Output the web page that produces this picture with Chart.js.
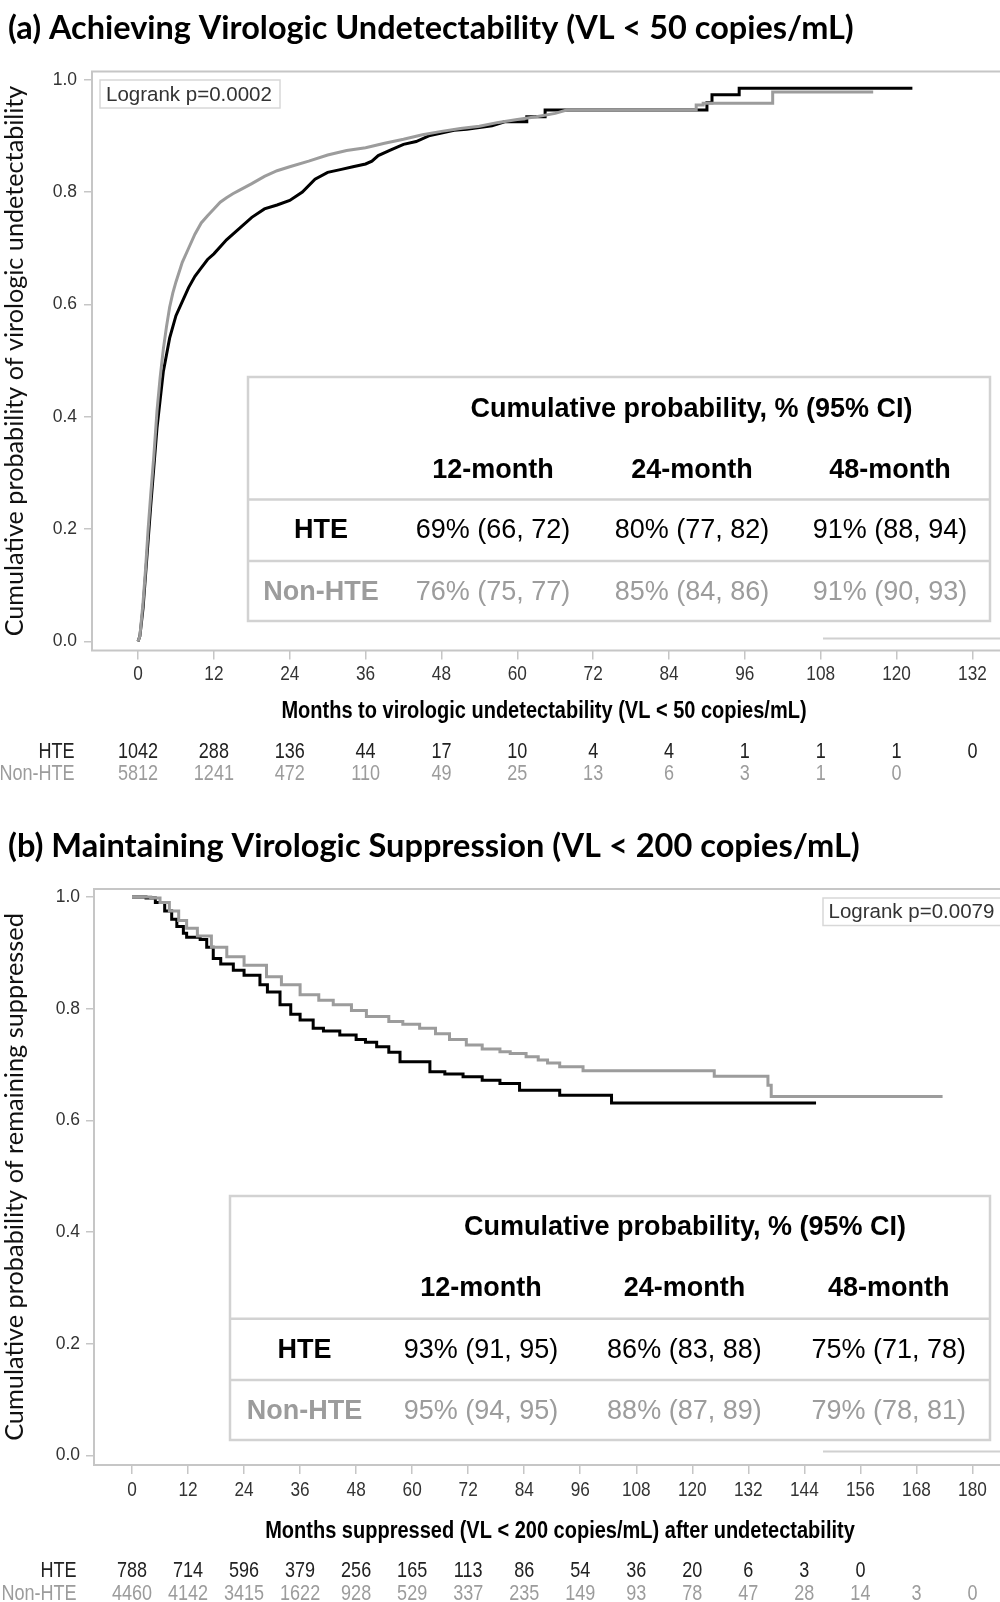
<!DOCTYPE html>
<html>
<head>
<meta charset="utf-8">
<script src="https://cdn.jsdelivr.net/npm/chart.js@4.4.1/dist/chart.umd.min.js"></script>
<style>
  body { margin: 0; background: #fff; }
  canvas { display: block; }
</style>
</head>
<body>
<canvas id="chartA" width="1000" height="800"></canvas>
<canvas id="chartB" width="1000" height="802"></canvas>
<script>
// ---- data: (a) achieving undetectability ----
const TICKS_A = [0, 12, 24, 36, 48, 60, 72, 84, 96, 108, 120, 132];
const RISK_A_HTE = [1042, 288, 136, 44, 17, 10, 4, 4, 1, 1, 1, 0];
const RISK_A_NON = [5812, 1241, 472, 110, 49, 25, 13, 6, 3, 1, 0];
// points, step corners repeated where the steps are visible
const MONTHS_A_HTE = [0, 0.3, 0.8, 1.2, 1.6, 2, 2.5, 3, 3.5, 4, 4.5, 5, 6, 7, 8, 9, 10, 11, 12, 14, 16, 18, 20, 22, 24, 26, 28, 30, 32, 34, 36, 37, 38, 40, 42, 44, 46, 48, 50, 52, 54, 56, 58, 61.5, 61.5, 64.4, 64.4, 90, 90, 90.8, 90.8, 95.1, 95.1, 122.5];
const PROB_A_HTE = [0, 0.01, 0.06, 0.12, 0.18, 0.24, 0.31, 0.38, 0.43, 0.48, 0.51, 0.54, 0.58, 0.605, 0.63, 0.65, 0.665, 0.68, 0.69, 0.715, 0.735, 0.755, 0.77, 0.777, 0.785, 0.8, 0.823, 0.835, 0.84, 0.845, 0.85, 0.855, 0.865, 0.875, 0.885, 0.89, 0.9, 0.905, 0.91, 0.912, 0.915, 0.918, 0.925, 0.925, 0.934, 0.934, 0.946, 0.946, 0.959, 0.959, 0.973, 0.973, 0.985, 0.985];
const MONTHS_A_NON = [0, 0.3, 0.8, 1.2, 1.6, 2, 2.5, 3, 3.5, 4, 4.5, 5, 5.5, 6, 7, 8, 9, 10, 11, 12, 13, 14, 15, 16, 18, 20, 22, 24, 27, 30, 33, 36, 39, 42, 45, 48, 51, 54, 57, 60, 63, 66, 67.8, 88.3, 88.3, 89.4, 89.4, 100.4, 100.4, 116.3];
const PROB_A_NON = [0, 0.01, 0.07, 0.13, 0.2, 0.26, 0.33, 0.41, 0.47, 0.52, 0.56, 0.595, 0.62, 0.64, 0.675, 0.7, 0.725, 0.745, 0.758, 0.77, 0.782, 0.79, 0.797, 0.803, 0.815, 0.828, 0.838, 0.845, 0.855, 0.866, 0.874, 0.879, 0.887, 0.894, 0.902, 0.908, 0.913, 0.917, 0.924, 0.929, 0.934, 0.94, 0.946, 0.946, 0.955, 0.955, 0.958, 0.958, 0.978, 0.978];
const TABLE_A_HTE = ['69% (66, 72)', '80% (77, 82)', '91% (88, 94)'];
const TABLE_A_NON = ['76% (75, 77)', '85% (84, 86)', '91% (90, 93)'];

// ---- data: (b) maintaining suppression ----
const TICKS_B = [0, 12, 24, 36, 48, 60, 72, 84, 96, 108, 120, 132, 144, 156, 168, 180];
const RISK_B_HTE = [788, 714, 596, 379, 256, 165, 113, 86, 54, 36, 20, 6, 3, 0];
const RISK_B_NON = [4460, 4142, 3415, 1622, 928, 529, 337, 235, 149, 93, 78, 47, 28, 14, 3, 0];
const MONTHS_B_HTE = [0, 3, 5, 7, 8.5, 9.6, 11, 11.7, 14.6, 16, 17.4, 19, 21.7, 24, 27.4, 29, 31.7, 34, 36, 38.8, 41, 44.5, 48, 50, 52.4, 55, 57.4, 63.8, 67, 70.9, 75, 78.8, 83, 91.6, 102.7, 146.5];
const PROB_B_HTE = [1, 0.998, 0.99, 0.975, 0.96, 0.947, 0.935, 0.928, 0.924, 0.91, 0.89, 0.88, 0.869, 0.86, 0.843, 0.83, 0.807, 0.79, 0.78, 0.765, 0.76, 0.753, 0.745, 0.74, 0.732, 0.722, 0.705, 0.687, 0.683, 0.678, 0.672, 0.666, 0.654, 0.645, 0.631, 0.631];
const MONTHS_B_NON = [0, 4, 6, 8, 10, 11.7, 14, 17, 20.3, 24, 28.8, 32, 36, 40, 43.1, 47, 50.2, 55, 58, 61.6, 65, 68, 71.6, 75, 78.8, 81, 84.4, 87, 89, 91.6, 96.6, 124.7, 136.2, 136.9, 173.6];
const PROB_B_NON = [1, 0.998, 0.99, 0.975, 0.958, 0.944, 0.93, 0.91, 0.893, 0.878, 0.857, 0.843, 0.825, 0.815, 0.807, 0.797, 0.786, 0.777, 0.772, 0.765, 0.755, 0.745, 0.735, 0.728, 0.723, 0.72, 0.714, 0.708, 0.703, 0.696, 0.689, 0.679, 0.663, 0.643, 0.643];
const TABLE_B_HTE = ['93% (91, 95)', '86% (83, 88)', '75% (71, 78)'];
const TABLE_B_NON = ['95% (94, 95)', '88% (87, 89)', '79% (78, 81)'];

const Y_TICKS = [0, 0.2, 0.4, 0.6, 0.8, 1.0];
const TABLE_COLS = ['12-month', '24-month', '48-month'];

// ---- look ----
const BLACK = '#000000';
const GRAY = '#9c9c9c';
const FRAME = '#c6c6c6';
const TEXT = '#333333';
const ARIAL = '"Liberation Sans", Arial, sans-serif';
const SQUEEZE = 0.82;   // no Arial Narrow here, so squeeze Arial horizontally

const probe = document.createElement('canvas').getContext('2d');
function fitSize(text, weight, family, target) {
    probe.font = `${weight} 100px ${family}`;
    return 100 * target / probe.measureText(text).width;
}

function toPoints(xs, ys) {
    return xs.map((x, i) => ({ x: x, y: ys[i] }));
}

function fillNarrow(ctx, text, x, y) {
    ctx.save();
    ctx.translate(x, y);
    ctx.scale(SQUEEZE, 1);
    ctx.fillText(text, 0, 0);
    ctx.restore();
}

function drawInset(ctx, t, hteRow, nonRow) {
    ctx.fillStyle = '#fff';
    ctx.fillRect(t.l, t.t, t.r - t.l, t.b - t.t);
    ctx.strokeStyle = '#d2d2d2';
    ctx.lineWidth = 2.5;
    ctx.strokeRect(t.l, t.t, t.r - t.l, t.b - t.t);
    t.rules.forEach(y => {
        ctx.beginPath();
        ctx.moveTo(t.l, y);
        ctx.lineTo(t.r, y);
        ctx.stroke();
    });
    ctx.textAlign = 'center';
    ctx.textBaseline = 'middle';
    ctx.fillStyle = BLACK;
    ctx.font = `bold 27px ${ARIAL}`;
    ctx.fillText('Cumulative probability, % (95% CI)', t.headX, t.headY);
    TABLE_COLS.forEach((c, i) => ctx.fillText(c, t.colX[i], t.colY));
    ctx.fillText('HTE', t.labelX, t.rowY[0]);
    ctx.fillStyle = GRAY;
    ctx.fillText('Non-HTE', t.labelX, t.rowY[1]);
    ctx.font = `27px ${ARIAL}`;
    ctx.fillStyle = BLACK;
    hteRow.forEach((s, i) => ctx.fillText(s, t.colX[i], t.rowY[0]));
    ctx.fillStyle = GRAY;
    nonRow.forEach((s, i) => ctx.fillText(s, t.colX[i], t.rowY[1]));
}

function decorPlugin(o) {
    return {
        id: 'kmDecor',
        beforeDatasetsDraw(chart) {
            const ctx = chart.ctx;
            const a = chart.chartArea;
            ctx.save();
            ctx.strokeStyle = FRAME;
            ctx.lineWidth = 2;
            ctx.strokeRect(a.left, a.top, a.right - a.left + 4, a.bottom - a.top);
            ctx.restore();
        },
        afterDraw(chart) {
            const ctx = chart.ctx;
            const xs = chart.scales.x;
            ctx.save();
            // panel title
            ctx.fillStyle = BLACK;
            ctx.textAlign = 'left';
            ctx.textBaseline = 'middle';
            ctx.font = `bold ${o.titleSize}px Lato`;
            ctx.fillText(o.title, 8, o.titleY);

            // x tick labels, narrow
            ctx.textAlign = 'center';
            ctx.fillStyle = TEXT;
            ctx.font = `21px ${ARIAL}`;
            xs.ticks.forEach(t => fillNarrow(ctx, String(t.value), xs.getPixelForValue(t.value), o.tickY));

            // x axis title
            ctx.fillStyle = BLACK;
            ctx.font = `bold 24.4px ${ARIAL}`;
            fillNarrow(ctx, o.xTitle, o.xTitleX, o.xTitleY);

            // numbers at risk
            ctx.font = `22px ${ARIAL}`;
            ctx.textAlign = 'right';
            ctx.fillStyle = '#222';
            fillNarrow(ctx, 'HTE', o.riskLabelX, o.riskY[0]);
            ctx.fillStyle = GRAY;
            fillNarrow(ctx, 'Non-HTE', o.riskLabelX, o.riskY[1]);
            ctx.textAlign = 'center';
            ctx.fillStyle = '#222';
            o.riskHte.forEach((n, i) => fillNarrow(ctx, String(n), xs.getPixelForValue(o.ticks[i]), o.riskY[0]));
            ctx.fillStyle = GRAY;
            o.riskNon.forEach((n, i) => fillNarrow(ctx, String(n), xs.getPixelForValue(o.ticks[i]), o.riskY[1]));

            // logrank box
            const lb = o.logrank;
            ctx.strokeStyle = '#d8d8d8';
            ctx.lineWidth = 1.5;
            ctx.fillStyle = '#fff';
            ctx.fillRect(lb.l, lb.t, lb.r - lb.l, lb.b - lb.t);
            ctx.strokeRect(lb.l, lb.t, lb.r - lb.l, lb.b - lb.t);
            ctx.fillStyle = TEXT;
            ctx.textAlign = 'left';
            ctx.font = `20.5px ${ARIAL}`;
            ctx.fillText(o.logrankText, lb.tx, (lb.t + lb.b) / 2 + 1);

            // stray legend edge at lower right
            ctx.strokeStyle = '#d0d0d0';
            ctx.lineWidth = 2;
            ctx.beginPath();
            ctx.moveTo(823, o.stubY);
            ctx.lineTo(1000, o.stubY);
            ctx.stroke();

            drawInset(ctx, o.inset, o.tableHte, o.tableNon);
            ctx.restore();
        }
    };
}

function kmChart(id, o) {
    const a = o.area;
    return new Chart(document.getElementById(id), {
        type: 'line',
        data: {
            datasets: [
                { label: 'HTE', data: toPoints(o.hteMonths, o.hteProb), borderColor: BLACK, order: 1 },
                { label: 'Non-HTE', data: toPoints(o.nonMonths, o.nonProb), borderColor: GRAY, order: 0 }
            ]
        },
        options: {
            responsive: false,
            animation: false,
            devicePixelRatio: 1,
            layout: { padding: { top: a.top, left: 0, right: 0, bottom: o.canvasH - a.bottom - 40 } },
            elements: {
                line: { borderWidth: 3, stepped: o.stepped, tension: 0, borderJoinStyle: 'miter', borderCapStyle: 'butt' },
                point: { radius: 0 }
            },
            plugins: { legend: { display: false }, tooltip: { enabled: false }, title: { display: false } },
            scales: {
                x: {
                    type: 'linear',
                    min: o.xMin,
                    max: o.xMax,
                    afterFit: s => { s.height = 40; },
                    afterBuildTicks: s => { s.ticks = o.ticks.map(v => ({ value: v })); },
                    border: { display: false },
                    grid: { drawOnChartArea: false, color: FRAME, lineWidth: 1.5, tickLength: 9 },
                    ticks: { display: false, autoSkip: false, maxRotation: 0 }
                },
                y: {
                    min: o.yMin,
                    max: o.yMax,
                    afterFit: s => { s.width = a.left; },
                    afterBuildTicks: s => { s.ticks = Y_TICKS.map(v => ({ value: v })); },
                    border: { display: false },
                    grid: { drawOnChartArea: false, color: FRAME, lineWidth: 1.5, tickLength: 8 },
                    ticks: {
                        color: TEXT, padding: o.yPad,
                        font: { family: ARIAL, size: 17.5 },
                        callback: v => v.toFixed(1)
                    },
                    title: {
                        display: true,
                        text: o.yTitle,
                        color: '#111',
                        padding: 0,
                        font: { family: 'Lato', size: o.yTitleSize, lineHeight: 1.2 }
                    }
                }
            }
        },
        plugins: [decorPlugin(o)]
    });
}

const TITLE_A = '(a) Achieving Virologic Undetectability (VL < 50 copies/mL)';
const TITLE_B = '(b) Maintaining Virologic Suppression (VL < 200 copies/mL)';
const YTITLE_A = 'Cumulative probability of virologic undetectability';
const YTITLE_B = 'Cumulative probability of remaining suppressed';

kmChart('chartA', {
    canvasH: 800,
    area: { left: 92, top: 71.5, bottom: 650.5 },
    xMin: -7.28, xMax: 136.36, yMin: -0.016, yMax: 1.0146, yPad: 7,
    stepped: false,
    ticks: TICKS_A, tickY: 674,
    hteMonths: MONTHS_A_HTE, hteProb: PROB_A_HTE,
    nonMonths: MONTHS_A_NON, nonProb: PROB_A_NON,
    riskHte: RISK_A_HTE, riskNon: RISK_A_NON,
    tableHte: TABLE_A_HTE, tableNon: TABLE_A_NON,
    title: TITLE_A, titleSize: fitSize(TITLE_A, 'bold', 'Lato', 846), titleY: 29,
    yTitle: YTITLE_A, yTitleSize: fitSize(YTITLE_A, 'normal', 'Lato', 551),
    xTitle: 'Months to virologic undetectability (VL < 50 copies/mL)', xTitleX: 544, xTitleY: 711,
    riskLabelX: 74.6, riskY: [752, 774],
    logrank: { l: 100, t: 80, r: 280, b: 108, tx: 106 }, logrankText: 'Logrank p=0.0002',
    stubY: 638.5,
    inset: { l: 248, t: 377, r: 990, b: 621, rules: [499.5, 561], headX: 691.5, headY: 410,
             colX: [493, 692, 890], colY: 471, rowY: [531, 592.5], labelX: 321 }
});

kmChart('chartB', {
    canvasH: 802,
    area: { left: 94, top: 89, bottom: 665 },
    xMin: -8.14, xMax: 185.9, yMin: -0.0168, yMax: 1.0143, yPad: 6,
    stepped: 'before',
    ticks: TICKS_B, tickY: 690,
    hteMonths: MONTHS_B_HTE, hteProb: PROB_B_HTE,
    nonMonths: MONTHS_B_NON, nonProb: PROB_B_NON,
    riskHte: RISK_B_HTE, riskNon: RISK_B_NON,
    tableHte: TABLE_B_HTE, tableNon: TABLE_B_NON,
    title: TITLE_B, titleSize: fitSize(TITLE_B, 'bold', 'Lato', 852), titleY: 47,
    yTitle: YTITLE_B, yTitleSize: fitSize(YTITLE_B, 'normal', 'Lato', 528),
    xTitle: 'Months suppressed (VL < 200 copies/mL) after undetectability', xTitleX: 560, xTitleY: 731,
    riskLabelX: 76.6, riskY: [771, 793.5],
    logrank: { l: 823, t: 98, r: 1003, b: 125.5, tx: 828.5 }, logrankText: 'Logrank p=0.0079',
    stubY: 651.5,
    inset: { l: 230, t: 396, r: 990, b: 640, rules: [518.7, 580], headX: 685, headY: 428,
             colX: [481, 684.4, 888.7], colY: 489, rowY: [550.4, 611.7], labelX: 304.5 }
});
</script>
</body>
</html>
